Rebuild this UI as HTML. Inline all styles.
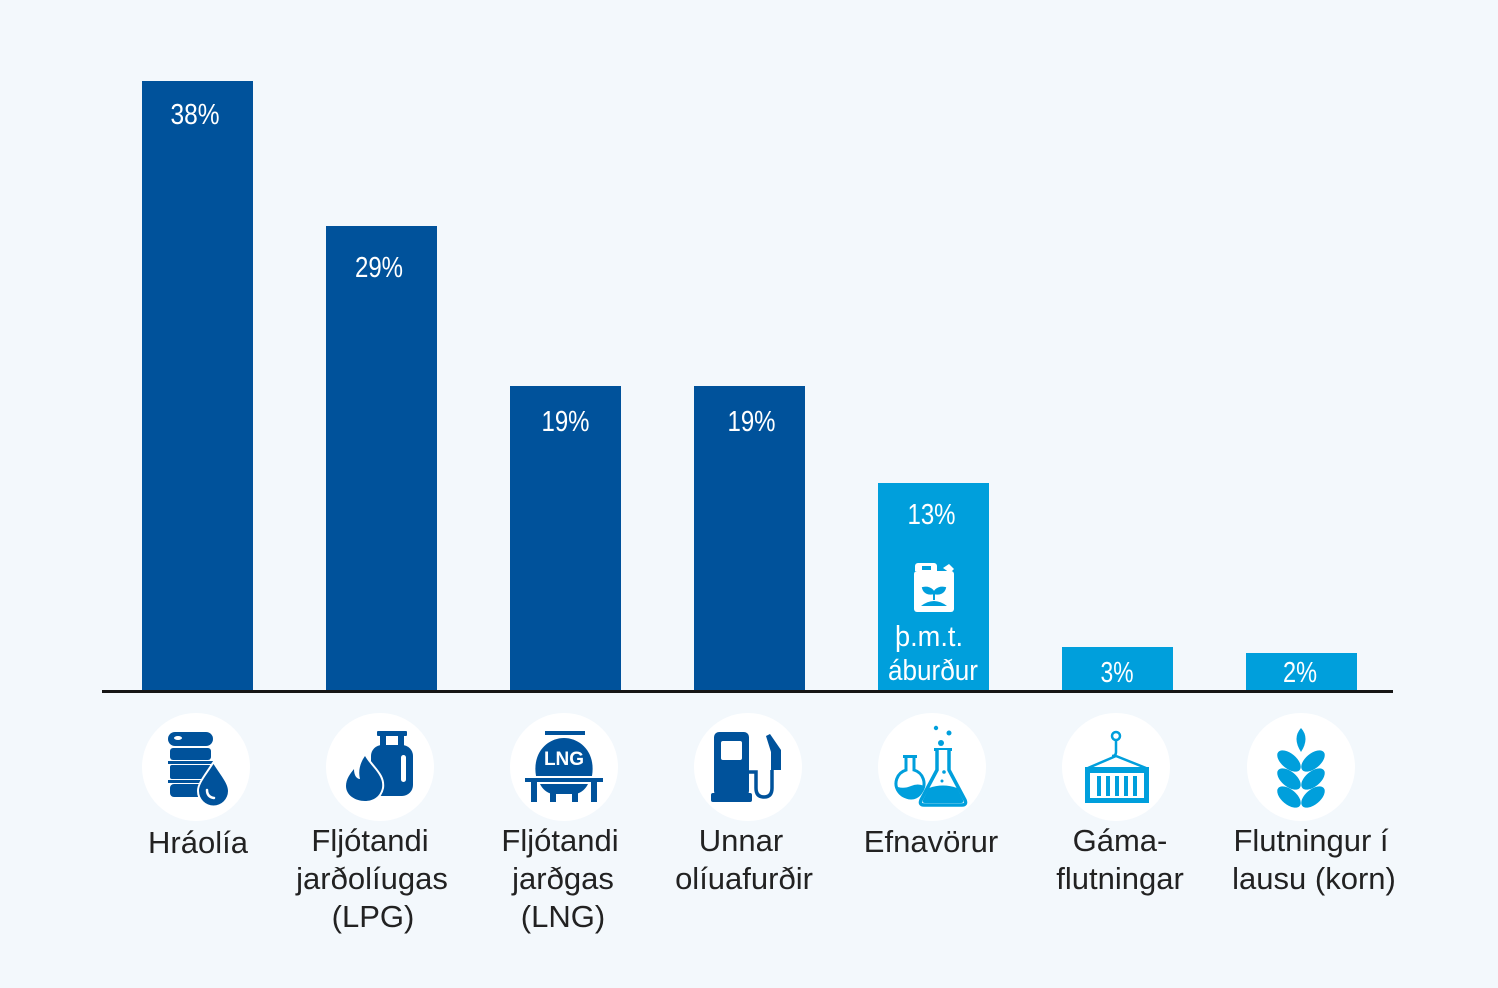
<!DOCTYPE html>
<html><head><meta charset="utf-8"><style>
html,body{margin:0;padding:0;background:#F3F8FC;}
svg{display:block;}
text{font-family:"Liberation Sans",Arial,sans-serif;}
</style></head><body>
<svg width="1498" height="988" viewBox="0 0 1498 988" xmlns="http://www.w3.org/2000/svg">
<rect width="1498" height="988" fill="#F3F8FC"/>
<!-- bars -->
<g fill="#00529B">
<rect x="142" y="81" width="111" height="610"/>
<rect x="326" y="226" width="111" height="465"/>
<rect x="510" y="386" width="111" height="305"/>
<rect x="694" y="386" width="111" height="305"/>
</g>
<g fill="#009FDC">
<rect x="878" y="483" width="111" height="208"/>
<rect x="1062" y="647" width="111" height="44"/>
<rect x="1246" y="653" width="111" height="38"/>
</g>
<rect x="102" y="690" width="1291" height="3" fill="#161616"/>
<!-- value labels -->
<g fill="#fff" font-size="29" text-anchor="middle">
<text x="195" y="124" textLength="49" lengthAdjust="spacingAndGlyphs">38%</text>
<text x="379" y="277" textLength="48" lengthAdjust="spacingAndGlyphs">29%</text>
<text x="565.5" y="431" textLength="48" lengthAdjust="spacingAndGlyphs">19%</text>
<text x="751.5" y="431" textLength="48" lengthAdjust="spacingAndGlyphs">19%</text>
<text x="931.5" y="524" textLength="48" lengthAdjust="spacingAndGlyphs">13%</text>
<text x="1117" y="682" textLength="33" lengthAdjust="spacingAndGlyphs">3%</text>
<text x="1300" y="682" textLength="34" lengthAdjust="spacingAndGlyphs">2%</text>
<text x="929" y="646" textLength="68" lengthAdjust="spacingAndGlyphs">þ.m.t.</text>
<text x="933" y="680" textLength="90" lengthAdjust="spacingAndGlyphs">áburður</text>
</g>
<!-- jerry can -->
<g>
<path d="M918 563 h16 a3 3 0 0 1 3 3 v5 h-22 v-5 a3 3 0 0 1 3 -3z" fill="#fff"/>
<rect x="922" y="566" width="9" height="4" fill="#009FDC"/>
<path d="M943 568 l6 -4 l5 5 l-4 4z" fill="#fff"/>
<rect x="914" y="571" width="40" height="41" rx="3" fill="#fff"/>
<path d="M934 600 v-8 M934 593 c-2 -5 -7 -6 -11 -5 c1 4 5 7 11 5z M934 593 c2 -5 7 -6 11 -5 c-1 4 -5 7 -11 5z" fill="#009FDC" stroke="#009FDC" stroke-width="2"/>
<path d="M921 606 q13 -10 26 0z" fill="#009FDC"/>
</g>
<!-- circles -->
<g fill="#fff">
<circle cx="196" cy="767" r="54"/>
<circle cx="380" cy="767" r="54"/>
<circle cx="564" cy="767" r="54"/>
<circle cx="748" cy="767" r="54"/>
<circle cx="932" cy="767" r="54"/>
<circle cx="1116" cy="767" r="54"/>
<circle cx="1301" cy="767" r="54"/>
</g>
<!-- icon 1 barrel -->
<g fill="#00529B">
<rect x="168" y="732" width="45" height="14" rx="7"/>
<ellipse cx="178" cy="738" rx="4" ry="2" fill="#fff"/>
<rect x="170" y="748" width="41" height="12" rx="3"/>
<rect x="168" y="761" width="45" height="3"/>
<rect x="170" y="765" width="41" height="14" rx="2"/>
<rect x="168" y="780" width="45" height="3"/>
<rect x="170" y="784" width="41" height="13" rx="4"/>
<path d="M213.5 764 C205 777 199 784 199 791 a14.5 14.5 0 0 0 29 0 C228 784 222 777 213.5 764Z" stroke="#fff" stroke-width="4" paint-order="stroke"/>
<path d="M207 790 q0 7 7 8" fill="none" stroke="#fff" stroke-width="2.5" stroke-linecap="round"/>
</g>
<!-- icon 2 LPG -->
<g fill="#00529B">
<rect x="377" y="731" width="30" height="5" rx="1"/>
<rect x="380" y="735" width="6" height="12"/>
<rect x="398" y="735" width="6" height="12"/>
<rect x="371" y="745" width="42" height="51" rx="11"/>
<rect x="401" y="755" width="5" height="27" rx="2.5" fill="#fff"/>
<path d="M365 756 C372 768 384 775 382 788 C380 797 373 801 365 801 C355 801 346 795 346 786 C346 779 350 774 354 769 C354 776 357 779 360 779 C358 771 360 763 365 756Z" stroke="#fff" stroke-width="4" paint-order="stroke"/>
</g>
<!-- icon 3 LNG -->
<g fill="#00529B">
<rect x="545" y="731" width="40" height="4"/>
<path d="M536 776 C532 752 548 738 564 738 C580 738 596 752 592 776Z"/>
<text x="564" y="765" fill="#fff" font-size="19" font-weight="bold" text-anchor="middle">LNG</text>
<rect x="525" y="778" width="78" height="4"/>
<rect x="531" y="782" width="6" height="20"/>
<rect x="591" y="782" width="6" height="20"/>
<path d="M540 784 h48 q-4 8 -12 10 h-24 q-8 -2 -12 -10z"/>
<rect x="550" y="790" width="6" height="12"/>
<rect x="572" y="790" width="6" height="12"/>
</g>
<!-- icon 4 pump -->
<g fill="#00529B">
<rect x="714" y="732" width="35" height="64" rx="5"/>
<rect x="711" y="793" width="41" height="9" rx="2"/>
<rect x="721" y="741" width="21" height="19" rx="2" fill="#fff"/>
<path d="M749 772 h7 v16 q0 9 8 9 q8 0 8 -9 v-18" fill="none" stroke="#00529B" stroke-width="3.5"/>
<path d="M766 736 l4 -2 l11 16 v20 h-10 v-18z"/>
</g>
<!-- icon 5 flasks -->
<g fill="#009FDC" stroke="#009FDC">
<rect x="903" y="755" width="14" height="3" stroke="none"/>
<path d="M906 757 v13 a14 14 0 1 0 8 0 v-13" fill="none" stroke-width="3"/>
<path d="M898 787 a13 13 0 0 0 26 -1 q-6 -3 -13 0 q-7 3 -13 1z" stroke="none"/>
<rect x="934" y="748" width="18" height="3" stroke="none"/>
<path d="M937 750 v20 l-16 30 q-2 5 3 5 h38 q5 0 3 -5 l-16 -30 v-20" fill="#fff" stroke-width="3.5"/>
<path d="M929 788 q14 -5 28 0 l6 12 q1 3 -2 3 h-36 q-3 0 -2 -3z" stroke="none"/>
<circle cx="936" cy="728" r="2.2" stroke="none"/>
<circle cx="949" cy="733" r="2.5" stroke="none"/>
<circle cx="941" cy="743" r="3" stroke="none"/>
<circle cx="944" cy="772" r="1.8" stroke="none"/>
<circle cx="942" cy="781" r="1.5" stroke="none"/>
</g>
<!-- icon 6 container -->
<g fill="#009FDC" stroke="#009FDC">
<circle cx="1116" cy="736" r="4" fill="none" stroke-width="2.5"/>
<path d="M1116 740 v12 q0 4 -4 4" fill="none" stroke-width="2.5"/>
<path d="M1116 756 L1088 768 M1116 756 L1146 768" fill="none" stroke-width="2.5"/>
<rect x="1085" y="767" width="64" height="6" stroke="none"/>
<rect x="1085" y="798" width="64" height="5" stroke="none"/>
<rect x="1085" y="767" width="5" height="36" stroke="none"/>
<rect x="1097" y="776" width="4" height="20" stroke="none"/>
<rect x="1106" y="776" width="4" height="20" stroke="none"/>
<rect x="1115" y="776" width="4" height="20" stroke="none"/>
<rect x="1124" y="776" width="4" height="20" stroke="none"/>
<rect x="1133" y="776" width="4" height="20" stroke="none"/>
<rect x="1144" y="767" width="5" height="36" stroke="none"/>
</g>
<!-- icon 7 wheat -->
<g fill="#009FDC">
<path d="M1301 728 q9 10 0 24 q-9 -14 0 -24z"/>
<ellipse cx="1289" cy="761" rx="14" ry="7.5" transform="rotate(40 1289 761)"/>
<ellipse cx="1313" cy="761" rx="14" ry="7.5" transform="rotate(-40 1313 761)"/>
<ellipse cx="1289" cy="779" rx="14" ry="7.5" transform="rotate(40 1289 779)"/>
<ellipse cx="1313" cy="779" rx="14" ry="7.5" transform="rotate(-40 1313 779)"/>
<ellipse cx="1289" cy="797" rx="14" ry="7.5" transform="rotate(40 1289 797)"/>
<ellipse cx="1313" cy="797" rx="14" ry="7.5" transform="rotate(-40 1313 797)"/>
</g>
<!-- category labels -->
<g fill="#222" font-size="31" text-anchor="middle">
<text x="198" y="853">Hráolía</text>
<text x="370" y="851">Fljótandi</text>
<text x="372" y="889">jarðolíugas</text>
<text x="373" y="927">(LPG)</text>
<text x="560" y="851">Fljótandi</text>
<text x="563" y="889">jarðgas</text>
<text x="563" y="927">(LNG)</text>
<text x="741" y="851">Unnar</text>
<text x="744" y="889">olíuafurðir</text>
<text x="931" y="852">Efnavörur</text>
<text x="1120" y="851">Gáma-</text>
<text x="1120" y="889">flutningar</text>
<text x="1311" y="851">Flutningur í</text>
<text x="1314" y="889">lausu (korn)</text>
</g>
</svg>
</body></html>
